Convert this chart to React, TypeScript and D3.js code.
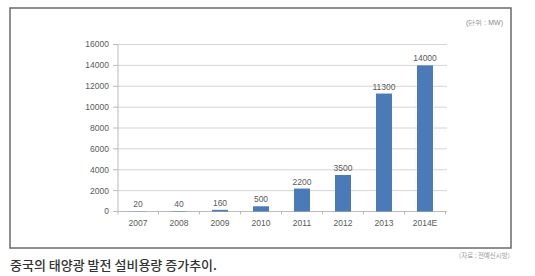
import React from "react";
import * as d3 from "d3";

const categories = ["2007", "2008", "2009", "2010", "2011", "2012", "2013", "2014E"];
const values = [20, 40, 160, 500, 2200, 3500, 11300, 14000];
const yTicks = [0, 2000, 4000, 6000, 8000, 10000, 12000, 14000, 16000];
const unitText = "(단위 : MW)";
const sourceText = "(자료 : 전예신시방)";
const captionText = "중국의 태양광 발전 설비용량 증가추이.";

export default function App() {
  const W = 535, H = 276;
  const x = d3.scaleBand<string>().domain(categories).range([117.5, 445.5]).paddingInner(0.61).paddingOuter(0.305);
  const y = d3.scaleLinear().domain([0, 16000]).range([211.5, 44.5]);
  const font = "'Liberation Sans', Arial, sans-serif";
  const bw = 16;
  const step = x.step();
  return (
    <svg width={W} height={H} style={{ position: "absolute", left: 0, top: 0, background: "#fff" }}>
      <rect x={10} y={8} width={501} height={240} fill="#fff" stroke="#6a6a6a" strokeWidth={1.5} />
      <text x={503} y={25} textAnchor="end" fontSize={7} fill="#888" fontFamily={font}>{unitText}</text>
      {yTicks.map((t) => (
        <g key={t}>
          <line x1={118} x2={447} y1={y(t)} y2={y(t)} stroke={t === 0 ? "#bbb" : "#d4d4d4"} strokeWidth={1} />
          <line x1={113} x2={118} y1={y(t)} y2={y(t)} stroke="#bbb" />
          <text x={109} y={y(t)} dy="0.35em" textAnchor="end" fontSize={8.5} fill="#5a5a5a" fontFamily={font}>{t}</text>
        </g>
      ))}
      <line x1={118} x2={118} y1={y(16000)} y2={y(0) + 3} stroke="#bbb" />
      {categories.map((c, i) => {
        const cx = (x(c) as number) + x.bandwidth() / 2;
        return (
          <g key={c}>
            <rect x={cx - bw / 2} y={y(values[i])} width={bw} height={y(0) - y(values[i])} fill="#4a7bb8" />
            <text x={cx} y={y(values[i]) - 4} textAnchor="middle" fontSize={8.5} fill="#5a5a5a" fontFamily={font}>{values[i]}</text>
            <text x={cx} y={226} textAnchor="middle" fontSize={8.5} fill="#5a5a5a" fontFamily={font}>{c}</text>
            <line x1={cx + step / 2} x2={cx + step / 2} y1={y(0)} y2={y(0) + 3} stroke="#bbb" />
          </g>
        );
      })}
      <text x={10} y={270} fontSize={13} fill="#333" fontFamily="'Noto Sans CJK KR', sans-serif" fontWeight={500}>{captionText}</text>
      <text x={510} y={258} textAnchor="end" fontSize={6.5} fill="#999" fontFamily="'Noto Sans CJK KR', sans-serif">{sourceText}</text>
    </svg>
  );
}
